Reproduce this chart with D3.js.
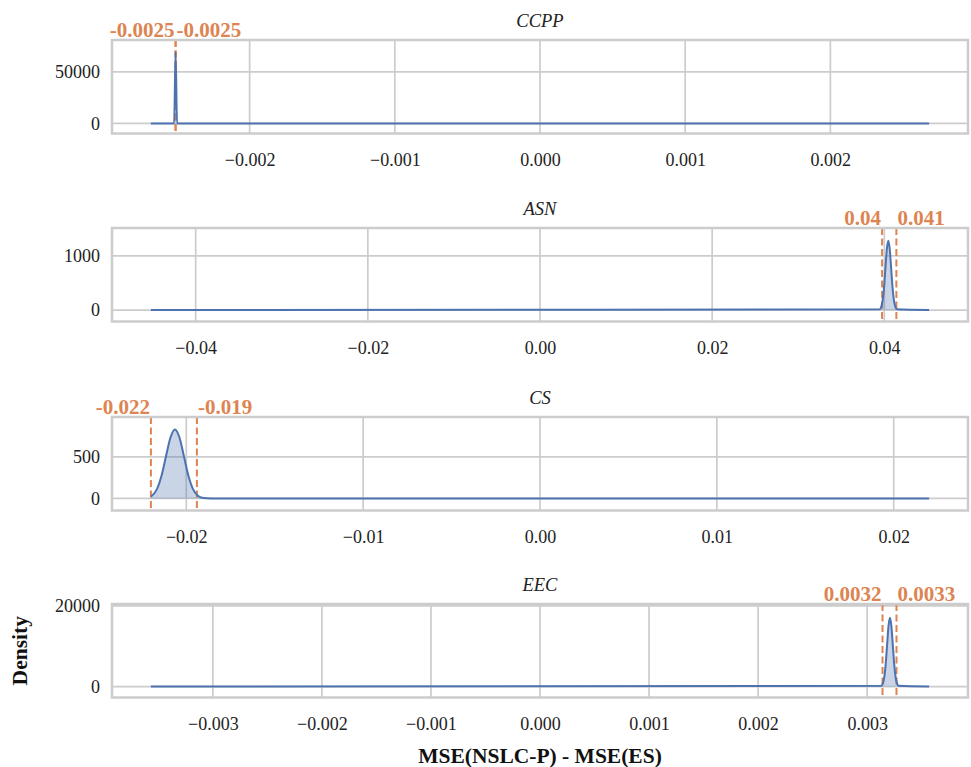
<!DOCTYPE html>
<html>
<head>
<meta charset="utf-8">
<script src="https://cdn.jsdelivr.net/npm/d3@7"></script>
<style>
  html, body { margin: 0; padding: 0; background: #fff; }
  svg { display: block; }
  text { font-family: "Liberation Serif", "Times New Roman", serif; }
</style>
</head>
<body>
<svg id="chart" width="971" height="767"></svg>
<script>
// ---------------- data ----------------
const panelNames = ["CCPP", "ASN", "CS", "EEC"];
const xExtents = [0.00268, 0.0452, 0.0220, 0.003568];
const xTicks = [
  [-0.002, -0.001, 0, 0.001, 0.002],
  [-0.04, -0.02, 0, 0.02, 0.04],
  [-0.02, -0.01, 0, 0.01, 0.02],
  [-0.003, -0.002, -0.001, 0, 0.001, 0.002, 0.003]
];
const xTickDecimals = [3, 2, 2, 3];
const yTicks = [[0, 50000], [0, 1000], [0, 500], [0, 20000]];
const yDomains = [[-9750, 80900], [-211, 1514], [-145, 980], [-2716, 20490]];

const ccppX = [-0.00268, -0.00252, -0.00251, -0.0025, 0.00268];
const ccppY = [0, 0, 69200, 0, 0];

const asnX = [-0.0452, 0.03947, 0.039635, 0.0398, 0.039965, 0.04013, 0.040295, 0.04046,
              0.040625, 0.04079, 0.040955, 0.04112, 0.041285, 0.04145, 0.0452];
const asnY = [0, 14, 56, 173, 416, 777, 1130, 1281, 1130, 777, 416, 173, 56, 14, 0];

const csX = [-0.0220, -0.021915, -0.02166, -0.021405, -0.02115, -0.020895, -0.02064,
             -0.020385, -0.02013, -0.019875, -0.01962, -0.019365, -0.01911, -0.0186, 0.0220];
const csY = [23, 37, 112, 270, 504, 733, 831, 733, 504, 270, 112, 37, 9, 0, 0];

const eecX = [-0.003568, 0.003131, 0.003144, 0.003157, 0.00317, 0.003183, 0.003196, 0.003209,
              0.003222, 0.003235, 0.003248, 0.003261, 0.003274, 0.003287, 0.003568];
const eecY = [0, 188, 752, 2309, 5557, 10380, 15080, 17100, 15080, 10380, 5557, 2309, 752, 188, 0];

const seriesX = [ccppX, asnX, csX, eecX];
const seriesY = [ccppY, asnY, csY, eecY];

const boundLo = [-0.00251, 0.03974, -0.0220, 0.003141];
const boundHi = [-0.00251, 0.0414, -0.0194, 0.003269];
const boundLoLabels = ["-0.0025", "0.04", "-0.022", "0.0032"];
const boundHiLabels = ["-0.0025", "0.041", "-0.019", "0.0033"];

const xLabel = "MSE(NSLC-P) - MSE(ES)";
const yLabel = "Density";

// ---------------- layout ----------------
const left = 112, right = 968;
const panelTops = [40, 228, 417, 604];
const panelH = 93.5;
const blue = "#4c72b0", orange = "#dd8452", gridCol = "#cccccc";
const tickFont = "18px", titleFont = "18.5px", boundFont = "21px", labelFont = "21.5px";

const svg = d3.select("#chart");

panelNames.forEach((name, i) => {
  const top = panelTops[i], bottom = top + panelH;
  const ext = xExtents[i] * 1.1;
  const x = d3.scaleLinear().domain([-ext, ext]).range([left, right]);
  const y = d3.scaleLinear().domain(yDomains[i]).range([bottom, top]);
  const g = svg.append("g");

  // grid
  g.append("g").selectAll("line").data(xTicks[i]).join("line")
    .attr("x1", d => x(d)).attr("x2", d => x(d))
    .attr("y1", top).attr("y2", bottom)
    .attr("stroke", gridCol).attr("stroke-width", 1.7);
  g.append("g").selectAll("line").data(yTicks[i]).join("line")
    .attr("x1", left).attr("x2", right)
    .attr("y1", d => y(d)).attr("y2", d => y(d))
    .attr("stroke", gridCol).attr("stroke-width", 1.7);

  // bounds (dashed)
  [boundLo[i], boundHi[i]].forEach(b => {
    g.append("line")
      .attr("x1", x(b)).attr("x2", x(b)).attr("y1", top).attr("y2", bottom)
      .attr("stroke", orange).attr("stroke-width", 2)
      .attr("stroke-dasharray", "7,3.5");
  });

  // data
  const pts = seriesX[i].map((v, k) => [v, seriesY[i][k]]);
  const area = d3.area().x(d => x(d[0])).y0(y(0)).y1(d => y(d[1])).curve(d3.curveMonotoneX);
  const line = d3.line().x(d => x(d[0])).y(d => y(d[1])).curve(d3.curveMonotoneX);
  g.append("path").datum(pts).attr("d", area)
    .attr("fill", blue).attr("fill-opacity", 0.3);
  g.append("path").datum(pts).attr("d", line)
    .attr("fill", "none").attr("stroke", blue).attr("stroke-width", 2);

  g.append("text").attr("x", x(boundLo[i]) - 1).attr("y", top - 3)
    .attr("text-anchor", "end").attr("fill", orange)
    .attr("font-weight", "bold").attr("font-size", boundFont)
    .text(boundLoLabels[i]);
  g.append("text").attr("x", x(boundHi[i]) + 1).attr("y", top - 3)
    .attr("text-anchor", "start").attr("fill", orange)
    .attr("font-weight", "bold").attr("font-size", boundFont)
    .text(boundHiLabels[i]);

  // spines
  g.append("rect").attr("x", left).attr("y", top)
    .attr("width", right - left).attr("height", panelH)
    .attr("fill", "none").attr("stroke", gridCol).attr("stroke-width", 2.5);

  // axes
  const xa = g.append("g").attr("transform", `translate(0,${bottom})`)
    .call(d3.axisBottom(x).tickValues(xTicks[i]).tickSize(0).tickPadding(20)
      .tickFormat(d3.format(`.${xTickDecimals[i]}f`)));
  const ya = g.append("g").attr("transform", `translate(${left},0)`)
    .call(d3.axisLeft(y).tickValues(yTicks[i]).tickSize(0).tickPadding(12)
      .tickFormat(d3.format("d")));
  [xa, ya].forEach(a => {
    a.select(".domain").remove();
    a.selectAll("text").attr("font-family", "'Liberation Serif', serif")
      .attr("font-size", tickFont).attr("fill", "#222");
  });

  // title
  g.append("text").attr("x", (left + right) / 2).attr("y", top - 13)
    .attr("text-anchor", "middle").attr("font-style", "italic")
    .attr("font-size", titleFont).attr("fill", "#222").text(name);
});

svg.append("text").attr("x", (left + right) / 2).attr("y", 763)
  .attr("text-anchor", "middle").attr("font-weight", "bold")
  .attr("font-size", labelFont).attr("fill", "#111").text(xLabel);
const lastMid = panelTops[3] + panelH / 2;
svg.append("text").attr("transform", `translate(27,${lastMid}) rotate(-90)`)
  .attr("text-anchor", "middle").attr("font-weight", "bold")
  .attr("font-size", labelFont).attr("fill", "#111").text(yLabel);
</script>
</body>
</html>
